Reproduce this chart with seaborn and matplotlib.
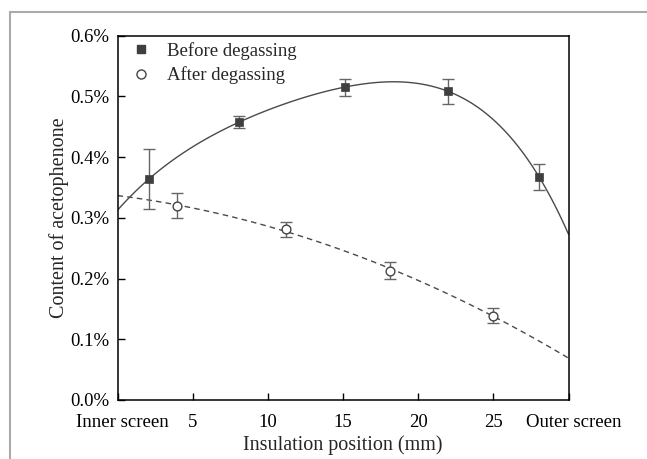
import numpy as np
import pandas as pd
import matplotlib
matplotlib.use("Agg")
import matplotlib.pyplot as plt
from matplotlib.lines import Line2D
from matplotlib.transforms import ScaledTranslation
import seaborn as sns

# ---- data (percent) ----
before_x = [2.1, 8.1, 15.1, 22.0, 28.05]
before_y = [0.364, 0.4575, 0.515, 0.508, 0.367]
before_err = [0.049, 0.010, 0.014, 0.020, 0.021]

after_x = [3.95, 11.2, 18.1, 25.0]
after_y = [0.320, 0.281, 0.213, 0.139]
after_err = [0.020, 0.012, 0.014, 0.013]

xticks = [0, 5, 10, 15, 20, 25, 30]
xtick_labels = ["Inner screen", "5", "10", "15", "20", "25", "Outer screen"]
yticks = [0.0, 0.1, 0.2, 0.3, 0.4, 0.5, 0.6]
ytick_labels = ["0.0%", "0.1%", "0.2%", "0.3%", "0.4%", "0.5%", "0.6%"]

sns.set_style("ticks")
plt.rcParams["font.family"] = ["Liberation Serif", "DejaVu Serif"]

fig = plt.figure(figsize=(6.47, 4.59), dpi=100)
ax = fig.add_axes([117.5 / 647, 1 - 400 / 459, (568.5 - 117.5) / 647, (400 - 35.5) / 459])
ax.set_xlim(0, 30)
ax.set_ylim(0, 0.6)

df_b = pd.DataFrame({"x": before_x, "y": before_y})
df_a = pd.DataFrame({"x": after_x, "y": after_y})

line_col = "#4a4a4a"
sns.regplot(data=df_b, x="x", y="y", order=4, ci=None, scatter=False, truncate=False,
            ax=ax, line_kws=dict(color=line_col, lw=1.0, ls="-"))
sns.regplot(data=df_a, x="x", y="y", order=2, ci=None, scatter=False, truncate=False,
            ax=ax, line_kws=dict(color=line_col, lw=1.0, ls=(0, (4, 3))))

err_col = "#666666"
ax.errorbar(before_x, before_y, yerr=before_err, fmt="none", ecolor=err_col,
            elinewidth=1.0, capsize=4, capthick=1.0, zorder=3)
ax.errorbar(after_x, after_y, yerr=after_err, fmt="none", ecolor=err_col,
            elinewidth=1.0, capsize=4, capthick=1.0, zorder=3)

sns.scatterplot(data=df_b, x="x", y="y", marker="s", s=36, color="#3f3f3f",
                edgecolor="#3f3f3f", linewidth=0.5, ax=ax, zorder=4)
sns.scatterplot(data=df_a, x="x", y="y", marker="o", s=40, facecolor="white",
                edgecolor="#444444", linewidth=1.0, ax=ax, zorder=4)

ax.set_xticks(xticks)
ax.set_xticklabels(xtick_labels)
ax.set_yticks(yticks)
ax.set_yticklabels(ytick_labels)
ax.tick_params(direction="in", length=5, width=1.0, labelsize=13.5, colors="black",
               top=False, right=False)
ax.tick_params(axis="x", pad=10)
ax.tick_params(axis="y", pad=6)
ax.set_xlabel("Insulation position (mm)", fontsize=14.5, labelpad=3)
ax.set_ylabel("Content of acetophenone", fontsize=14.5, labelpad=0.5)
for sp in ax.spines.values():
    sp.set_visible(True)
    sp.set_color("black")
    sp.set_linewidth(1.1)

# the two end labels sit slightly right of their tick
xlabels = ax.get_xticklabels()
for idx in (0, len(xlabels) - 1):
    lab = xlabels[idx]
    lab.set_transform(lab.get_transform() + ScaledTranslation(5 / 100, 0, fig.dpi_scale_trans))

handles = [
    Line2D([], [], marker="s", ls="none", color="#3f3f3f", markersize=6),
    Line2D([], [], marker="o", ls="none", markerfacecolor="white",
           markeredgecolor="#444444", markersize=6.5, markeredgewidth=1.0),
]
ax.legend(handles, ["Before degassing", "After degassing"], loc="upper left",
          frameon=False, fontsize=13.5, handletextpad=0.6, borderaxespad=0.2,
          labelspacing=0.35, borderpad=0.1, handlelength=1.5,
          bbox_to_anchor=(0.009, 0.998))

# outer frame lines
fig.add_artist(Line2D([10 / 647, 10 / 647], [0, 1 - 12 / 459], transform=fig.transFigure,
                      color="#aaaaaa", lw=1.5))
fig.add_artist(Line2D([10 / 647, 1], [1 - 12 / 459, 1 - 12 / 459], transform=fig.transFigure,
                      color="#aaaaaa", lw=1.5))

fig.savefig("out.png", dpi=100)
